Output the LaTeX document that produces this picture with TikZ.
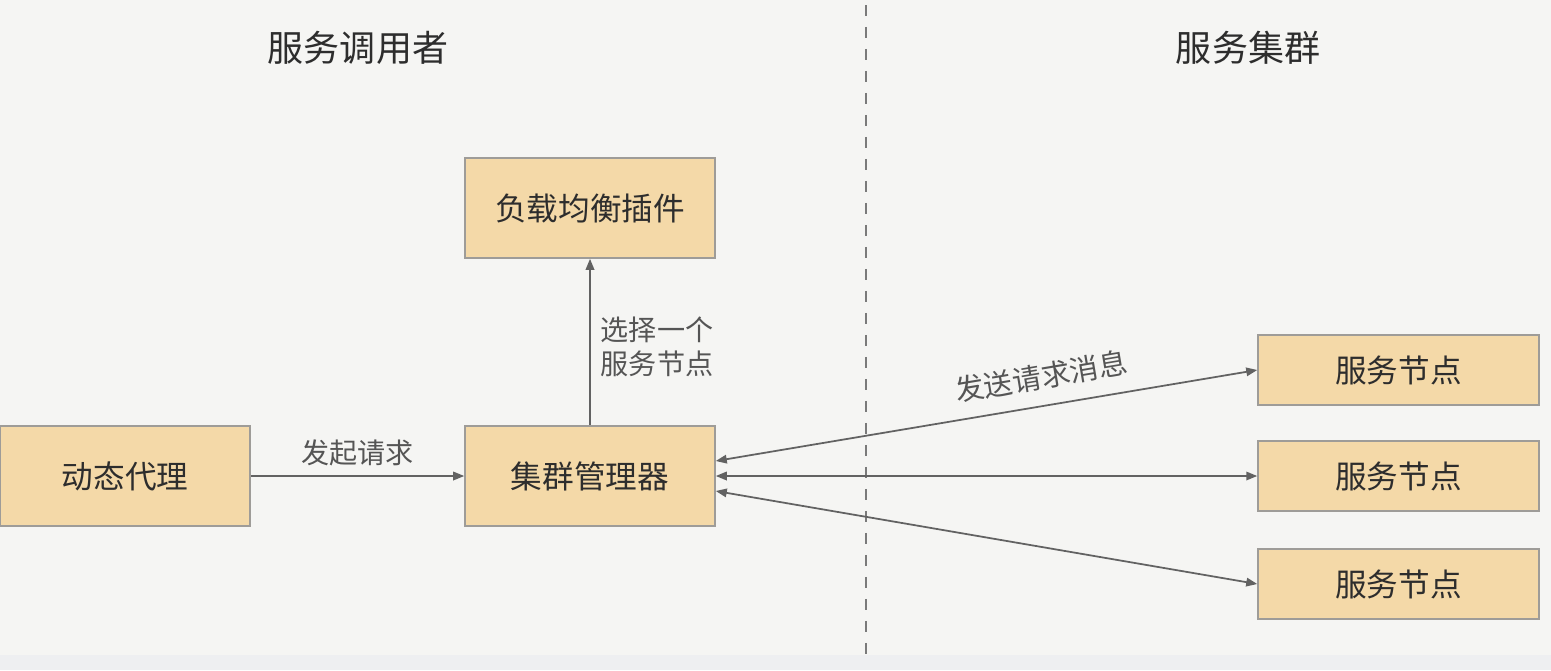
\documentclass[tikz,border=0pt]{standalone}
\usepackage{xcolor}
\usepackage{fontspec}
\newfontfamily\cjk{Noto Sans CJK SC}
\usetikzlibrary{arrows.meta, positioning}
\definecolor{paper}{RGB}{245,245,243}
\definecolor{strip}{RGB}{238,239,241}
\definecolor{boxfill}{RGB}{244,217,168}
\definecolor{boxline}{RGB}{158,156,152}
\definecolor{wire}{RGB}{98,98,98}
\definecolor{ink}{RGB}{45,45,45}
\definecolor{soft}{RGB}{85,85,85}

\begin{document}
\begin{tikzpicture}[x=0.02cm, y=-0.02cm,
    box/.style={draw=boxline, line width=0.9pt, fill=boxfill, inner sep=0pt,
      minimum width=5cm, minimum height=2cm, text=ink,
      font=\cjk\fontsize{18}{22}\selectfont},
    svcbox/.style={box, minimum width=5.62cm, minimum height=1.4cm},
    tag/.style={text=soft, font=\cjk\fontsize{16}{19}\selectfont},
    link/.style={wire, line width=1pt, -{Triangle[length=0.22cm, width=0.17cm]}},
    both/.style={link, {Triangle[length=0.22cm, width=0.17cm]}-{Triangle[length=0.22cm, width=0.17cm]}}]
  \fill[paper] (0,0) rectangle (1551,655);
  \fill[strip] (0,655) rectangle (1551,670);
  \useasboundingbox (0,0) rectangle (1551,670);

  % divider between the two sides
  \coordinate (divtop) at (866,5);
  \coordinate (divbot) at (866,655);
  \draw[wire!85, line width=1.1pt, dash pattern=on 0.22cm off 0.22cm] (divtop) -- (divbot);

  \node[text=ink, font=\cjk\fontsize{20.5}{24}\selectfont] (caller) at (358,48) {服务调用者};
  \node[text=ink, font=\cjk\fontsize{20.5}{24}\selectfont] (cluster) at (1248,48) {服务集群};

  % caller side
  \node[box] (proxy) at (125,476) {动态代理};
  \node[box] (mgr) at (590,476) {集群管理器};
  \node[box] (lb) at (590,208) {负载均衡插件};

  \draw[link] (proxy) -- node[tag, above, inner sep=0.18cm] {发起请求} (mgr);
  \draw[link] (mgr) -- node[tag, pos=0.47, right, inner sep=0.2cm, align=left] {选择一个\\服务节点} (lb);

  % cluster side
  \foreach \i/\y in {1/370, 2/476, 3/584}{
    \node[svcbox] (svc\i) at (1398.5,\y) {服务节点};
  }
  \draw[both] ([yshift=0.3cm]mgr.east) -- node[tag, pos=0.61, above, sloped, inner sep=0.3cm,
    font=\cjk\fontsize{16.5}{19}\selectfont] {发送请求消息} (svc1.west);
  \draw[both] (mgr.east) -- (svc2.west);
  \draw[both] ([yshift=-0.3cm]mgr.east) -- (svc3.west);
\end{tikzpicture}
\end{document}
